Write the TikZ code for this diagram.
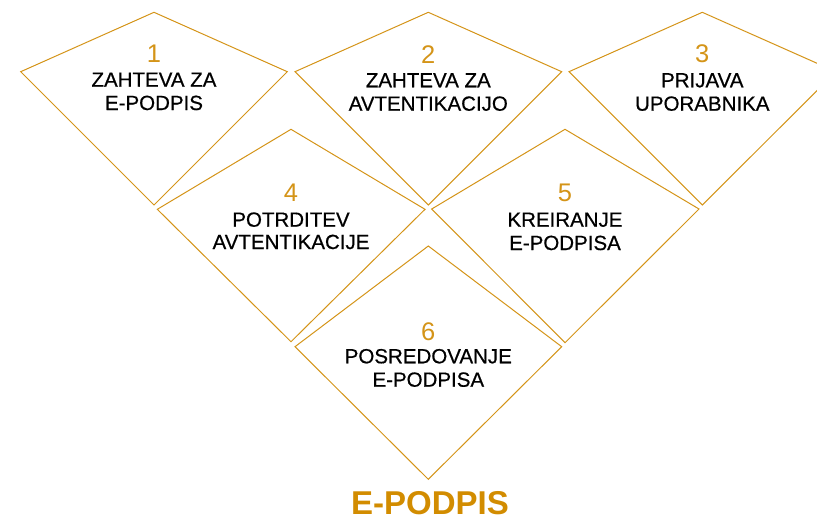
\documentclass[tikz,border=0pt]{standalone}
\usepackage{fontspec}
\setmainfont{Liberation Sans}
\definecolor{gold}{RGB}{212,148,24}
\definecolor{titlegold}{RGB}{210,140,0}
\begin{document}
\begin{tikzpicture}[x=1pt,y=-1pt,
  kite/.style={draw=gold,line width=1pt,line join=miter},
  num/.style={anchor=base,inner sep=0pt,text=gold,font=\fontsize{25.5}{28}\selectfont},
  lbl/.style={anchor=base,inner sep=0pt,text=black,font=\fontsize{20.5}{23}\selectfont\addfontfeature{FakeBold=0.6}},
  ttl/.style={anchor=base,inner sep=0pt,text=titlegold,font=\fontsize{33}{36}\selectfont\bfseries}]
\useasboundingbox (0,0) rectangle (817,520);
\clip (0,0) rectangle (817,520);
% kites: top, left, bottom, right
\draw[kite] (154,12.3) -- (20.7,71.7) -- (154,205) -- (287.3,71.7) -- cycle;
\draw[kite] (428.3,12.3) -- (295,71.7) -- (428.3,205) -- (561.7,71.7) -- cycle;
\draw[kite] (702.3,12.3) -- (569,71.7) -- (702.3,205) -- (836,71.7) -- cycle;
\draw[kite] (291,129.3) -- (157.3,209.3) -- (291,341.7) -- (425,209.3) -- cycle;
\draw[kite] (565,129.3) -- (431.7,209) -- (565,342.7) -- (699,209) -- cycle;
\draw[kite] (428.3,246) -- (295,346.7) -- (428.3,479.3) -- (561.7,346.7) -- cycle;
% texts
\node[num] (n1) at (154,62.7) {1};
\node[lbl] (a1) at (154,86.7) {ZAHTEVA ZA};
\node[lbl] (b1) at (154,110) {E-PODPIS};
\node[num] (n2) at (428.3,63.3) {2};
\node[lbl] (a2) at (428.3,87.3) {ZAHTEVA ZA};
\node[lbl] (b2) at (428.3,110.7) {AVTENTIKACIJO};
\node[num] (n3) at (702.3,62.7) {3};
\node[lbl] (a3) at (702.3,87.3) {PRIJAVA};
\node[lbl] (b3) at (702.3,110.7) {UPORABNIKA};
\node[num] (n4) at (291,201) {4};
\node[lbl] (a4) at (291,226.7) {POTRDITEV};
\node[lbl] (b4) at (291,249) {AVTENTIKACIJE};
\node[num] (n5) at (565,201.7) {5};
\node[lbl] (a5) at (565,226.7) {KREIRANJE};
\node[lbl] (b5) at (565,250) {E-PODPISA};
\node[num] (n6) at (428.3,340) {6};
\node[lbl] (a6) at (428.3,363.3) {POSREDOVANJE};
\node[lbl] (b6) at (428.3,386.7) {E-PODPISA};
\node[ttl] (title) at (430,514.5) {E-PODPIS};
\end{tikzpicture}
\end{document}
